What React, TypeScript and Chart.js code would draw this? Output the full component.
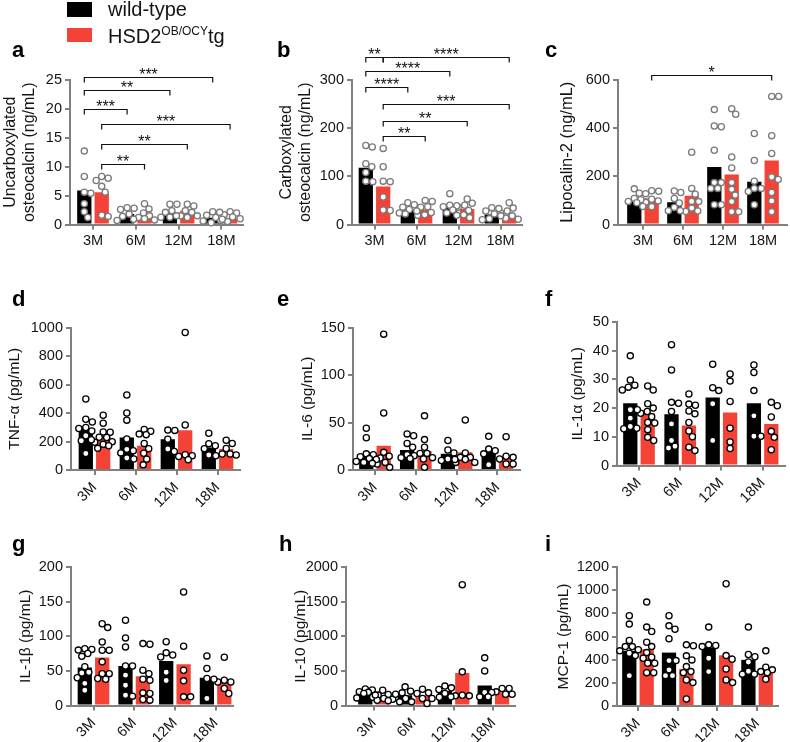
import React, { useEffect, useRef } from 'react';
import { Chart, registerables } from 'chart.js';

Chart.register(...registerables);

const FONT = '"Liberation Sans", Arial, Helvetica, sans-serif';
const RED = '#F44336';
const GRAY = '#808080';
const TEXT = '#141414';

// ---------------- data ----------------
const categories = ['3M', '6M', '12M', '18M'];

// a: uncarboxylated osteocalcin (ng/mL)
const ucOcnWtBar = [5.9, 1.8, 2.1, 1.15];
const ucOcnTgBar = [5.6, 1.65, 2.4, 1.0];
const ucOcnWtPts = [[12.7, 8.3, 5.6, 5.4, 3.6, 2.2, 1.2], [2.9, 2.8, 2.6, 1.8, 1.4, 0.9, 0.7], [3.5, 3.5, 2.4, 2.1, 1.5, 1.25, 1.25], [2.2, 2.1, 1.6, 1.2, 0.9, 0.6, 0.3]];
const ucOcnTgPts = [[8.3, 8.0, 7.6, 6.6, 5.6, 1.6, 1.4], [3.6, 2.7, 2.0, 1.5, 1.2, 1.0, 0.8], [3.5, 3.2, 2.4, 2.1, 1.5, 1.5, 1.2], [2.2, 2.0, 1.7, 1.3, 1.0, 0.7, 0.5]];

// b: carboxylated osteocalcin (ng/mL)
const cOcnWtBar = [118, 31, 35, 21];
const cOcnTgBar = [79, 31, 32, 20];
const cOcnWtPts = [[164, 161, 126, 120, 108, 90, 89], [45, 41, 36, 31, 28, 24, 22], [64, 40, 39, 37, 30, 24, 19], [35, 33, 28, 22, 18, 12, 10]];
const cOcnTgPts = [[158, 120, 90, 89, 57, 30, 29], [50, 48, 37, 36, 25, 20, 19], [53, 44, 40, 36, 29, 20, 14], [45, 34, 28, 24, 18, 13, 11]];

// c: lipocalin-2 (ng/mL)
const lcnWtBar = [105, 92, 239, 178];
const lcnTgBar = [109, 119, 208, 266];
const lcnWtPts = [[148, 130, 108, 103, 96, 90, 75], [139, 133, 108, 89, 71, 57, 57], [477, 406, 409, 308, 174, 174, 150, 150, 82, 82], [378, 266, 180, 150, 150, 137, 82]];
const lcnTgPts = [[140, 138, 128, 105, 98, 92, 74], [300, 150, 126, 96, 95, 68, 56, 54], [481, 458, 280, 235, 174, 146, 122, 95, 53, 53], [532, 532, 369, 295, 197, 187, 133, 98, 53]];

// d: TNF-alpha (pg/mL)
const tnfWtBar = [293, 228, 216, 158];
const tnfTgBar = [235, 170, 279, 147];
const tnfWtPts = [[498, 356, 337, 298, 291, 274, 240, 212, 205, 116], [526, 400, 350, 218, 145, 135, 120, 84, 77], [280, 278, 216, 147, 130], [258, 185, 170, 150, 105, 100]];
const tnfTgPts = [[384, 328, 267, 265, 230, 228, 198, 195, 180, 170, 152], [285, 272, 252, 248, 186, 150, 118, 76, 36], [965, 316, 107, 100, 95, 72], [209, 186, 151, 112, 112, 105]];

// e: IL-6 (pg/mL)
const il6WtBar = [16, 21, 17, 19.6];
const il6TgBar = [25.6, 20, 18.6, 13.3];
const il6WtPts = [[44, 34, 17, 16, 14, 12, 11, 9, 8, 7], [38, 36, 28, 24, 16, 15, 13, 12], [31, 21, 18, 11.6, 11, 10], [35.4, 22, 20.3, 17, 5.6]];
const il6TgPts = [[143, 60, 18.6, 14.4, 12.6, 8, 6.3, 2.8], [57, 32, 24, 17.5, 17.5, 13, 11.6, 2.8], [52.6, 18, 13.3, 13.3, 11, 8, 8], [35, 14.4, 13.3, 11.6, 6.3, 6.3]];

// f: IL-1alpha (pg/mL)
const il1aWtBar = [21.7, 17.9, 23.7, 21.7];
const il1aTgBar = [18.2, 13.9, 18.5, 14.5];
const il1aWtPts = [[38.2, 29.8, 28, 27.3, 26.3, 19.4, 19.4, 16.5, 13.6, 13, 12.8], [42.1, 33.3, 22, 21.7, 18.8, 14.5, 8.7, 6.7, 6.1], [35.3, 27.1, 26.1, 21.5, 8.7], [35, 32.4, 26.1, 17.3, 10.2, 10.2]];
const il1aTgPts = [[27.7, 26.3, 21.5, 20, 18.8, 18.2, 17, 15, 14.8, 12.5, 9.8, 8.7], [24.9, 21.4, 21, 19, 18, 15, 12, 10, 6.4, 5.2], [31.9, 29.4, 22.3, 13, 8.2, 5.9], [22, 20.8, 16.9, 11.9, 9.8, 5.5]];

// g: IL-1beta (pg/mL)
const il1bWtBar = [54.8, 57.2, 64.4, 39.9];
const il1bTgBar = [69.2, 42.3, 59.6, 38];
const il1bWtPts = [[82, 81, 80, 75, 71, 56, 48, 47, 40, 32, 22], [123, 97.6, 84.6, 57, 57, 43.8, 29.3, 14.9, 13.5], [92, 76, 73, 70, 48, 36], [71.6, 53.4, 39, 38, 10]];
const il1bTgPts = [[118, 112.5, 91.8, 79.8, 79.8, 63, 46, 46, 39, 38], [89.4, 88.5, 51, 46, 38, 36.5, 18.3, 17.3, 8.7, 7.7], [164, 85.6, 51, 35.6, 12.5, 12.5], [69.7, 36.5, 34, 34, 24.5, 17.3]];

// h: IL-10 (pg/mL)
const il10WtBar = [183, 149, 211, 288];
const il10TgBar = [125, 139, 471, 192];
const il10WtPts = [[240, 225, 200, 190, 175, 150, 110], [269, 207, 183, 163, 101, 53, 53], [280, 255, 230, 175, 125, 120], [688, 500, 188, 188, 125, 125]];
const il10TgPts = [[220, 160, 150, 120, 100, 90, 75, 70], [235, 183, 173, 101, 101, 29], [1745, 486, 149, 139, 139], [245, 245, 197, 163, 163]];

// i: MCP-1 (pg/mL)
const mcpWtBar = [476, 461, 505, 398];
const mcpTgBar = [490, 320, 438, 312];
const mcpWtPts = [[779, 707, 565, 513, 513, 485, 476, 456, 435, 262], [779, 692, 663, 580, 392, 392, 312, 262, 262], [681, 528, 522, 513, 412, 297], [681, 445, 425, 380, 300, 275, 275]];
const mcpTgPts = [[897, 681, 643, 551, 513, 461, 421, 412, 369, 369, 288, 288], [528, 520, 433, 398, 340, 297, 288, 225, 202, 61], [1056, 435, 404, 320, 225, 202], [476, 335, 312, 297, 288, 231]];

// significance brackets: [group, series] -> [group, series], line value, label
type Bracket = { a: [number, number]; b: [number, number]; y: number; label: string };
const ucOcnBrackets: Bracket[] = [
  { a: [0, 0], b: [3, 0], y: 25.6, label: '***' },
  { a: [0, 0], b: [2, 0], y: 23.3, label: '**' },
  { a: [0, 0], b: [1, 0], y: 20.0, label: '***' },
  { a: [0, 1], b: [3, 1], y: 17.4, label: '***' },
  { a: [0, 1], b: [2, 1], y: 13.95, label: '**' },
  { a: [0, 1], b: [1, 1], y: 10.4, label: '**' },
];
const cOcnBrackets: Bracket[] = [
  { a: [0, 0], b: [0, 1], y: 348, label: '**' },
  { a: [0, 1], b: [3, 1], y: 348, label: '****' },
  { a: [0, 0], b: [2, 0], y: 319, label: '****' },
  { a: [0, 0], b: [1, 0], y: 286, label: '****' },
  { a: [0, 1], b: [3, 1], y: 250, label: '***' },
  { a: [0, 1], b: [2, 1], y: 215, label: '**' },
  { a: [0, 1], b: [1, 1], y: 183, label: '**' },
];
const lcnBrackets: Bracket[] = [{ a: [0, 1], b: [3, 1], y: 622, label: '*' }];

// ---------------- layout ----------------
interface Panel {
  letter: string;
  title: string | string[];
  wtBar: number[]; tgBar: number[]; wtPts: number[][]; tgPts: number[][];
  yMax: number; yStep: number;
  brackets: Bracket[];
  dot: string;
  canvas: [number, number, number, number];
  area: [number, number, number, number];
  cat: [number, number];
  titleMid: number;
  titleSize: number;
  rot: number;
  letterPos: [number, number];
}

const panels: Panel[] = [
  { letter: 'a', title: ['Uncarboxylated', 'osteocalcin (ng/mL)'], wtBar: ucOcnWtBar, tgBar: ucOcnTgBar, wtPts: ucOcnWtPts, tgPts: ucOcnTgPts, yMax: 25, yStep: 5, brackets: ucOcnBrackets, dot: '#7a7a7a', canvas: [0, 40, 262, 222], area: [70, 80, 243, 224.5], cat: [93, 42.8], titleMid: 11, titleSize: 16, rot: 0, letterPos: [12, 58] },
  { letter: 'b', title: ['Carboxylated', 'osteocalcin (ng/mL)'], wtBar: cOcnWtBar, tgBar: cOcnTgBar, wtPts: cOcnWtPts, tgPts: cOcnTgPts, yMax: 300, yStep: 100, brackets: cOcnBrackets, dot: '#7a7a7a', canvas: [262, 40, 265, 222], area: [352, 80, 522, 224.5], cat: [374.5, 42], titleMid: 287, titleSize: 16, rot: 0, letterPos: [277, 58] },
  { letter: 'c', title: 'Lipocalin-2 (ng/mL)', wtBar: lcnWtBar, tgBar: lcnTgBar, wtPts: lcnWtPts, tgPts: lcnTgPts, yMax: 600, yStep: 200, brackets: lcnBrackets, dot: '#7a7a7a', canvas: [527, 40, 263, 222], area: [618, 80, 787, 224.5], cat: [643, 40], titleMid: 567, titleSize: 16.5, rot: 0, letterPos: [545, 58] },
  { letter: 'd', title: 'TNF-\u03b1 (pg/mL)', wtBar: tnfWtBar, tgBar: tnfTgBar, wtPts: tnfWtPts, tgPts: tnfTgPts, yMax: 1000, yStep: 200, brackets: [], dot: '#000', canvas: [0, 290, 262, 230], area: [71, 327.5, 240, 470], cat: [94.5, 41], titleMid: 15, titleSize: 15.5, rot: 45, letterPos: [12, 307] },
  { letter: 'e', title: 'IL-6 (pg/mL)', wtBar: il6WtBar, tgBar: il6TgBar, wtPts: il6WtPts, tgPts: il6TgPts, yMax: 150, yStep: 50, brackets: [], dot: '#000', canvas: [262, 290, 265, 230], area: [353, 327.5, 520, 470], cat: [375, 40.8], titleMid: 307.5, titleSize: 15.5, rot: 45, letterPos: [277, 307] },
  { letter: 'f', title: 'IL-1\u03b1 (pg/mL)', wtBar: il1aWtBar, tgBar: il1aTgBar, wtPts: il1aWtPts, tgPts: il1aTgPts, yMax: 50, yStep: 10, brackets: [], dot: '#000', canvas: [527, 290, 263, 230], area: [617, 322, 785, 465.5], cat: [639, 41.2], titleMid: 578, titleSize: 15.5, rot: 45, letterPos: [545, 307] },
  { letter: 'g', title: 'IL-1\u03b2 (pg/mL)', wtBar: il1bWtBar, tgBar: il1bTgBar, wtPts: il1bWtPts, tgPts: il1bTgPts, yMax: 200, yStep: 50, brackets: [], dot: '#000', canvas: [0, 530, 262, 212], area: [71, 567, 233, 705.5], cat: [93.5, 40.7], titleMid: 26, titleSize: 15.5, rot: 45, letterPos: [12, 551.5] },
  { letter: 'h', title: 'IL-10 (pg/mL)', wtBar: il10WtBar, tgBar: il10TgBar, wtPts: il10WtPts, tgPts: il10TgPts, yMax: 2000, yStep: 500, brackets: [], dot: '#000', canvas: [262, 530, 265, 212], area: [346, 567, 515, 705.5], cat: [374, 39.8], titleMid: 300.5, titleSize: 15.5, rot: 45, letterPos: [279, 551.5] },
  { letter: 'i', title: 'MCP-1 (pg/mL)', wtBar: mcpWtBar, tgBar: mcpTgBar, wtPts: mcpWtPts, tgPts: mcpTgPts, yMax: 1200, yStep: 200, brackets: [], dot: '#000', canvas: [527, 530, 263, 212], area: [617, 567, 778, 706], cat: [638, 39.7], titleMid: 563.5, titleSize: 15.5, rot: 45, letterPos: [545, 551.5] },
];

// compact beeswarm: spread overlapping dots horizontally within a narrow band (pixel space)
function swarm(vals: number[], center: number, yPx: number, xPx: number) {
  const D = 6.6;
  const MAXOFF = 10;
  const placed: [number, number][] = [];
  const out: { x: number; y: number }[] = [];
  const order = vals.map((_, i) => i).sort((p, q) => vals[q] - vals[p]);
  const cands: number[] = [0];
  for (let k = 1; k * 0.5 <= MAXOFF; k++) cands.push(k * 0.5, -k * 0.5);
  for (const i of order) {
    const py = vals[i] * yPx;
    let best = 0;
    let bestScore = -Infinity;
    for (const c of cands) {
      let minD = Infinity;
      for (const [ox, oy] of placed) minD = Math.min(minD, Math.hypot(ox - c, oy - py));
      if (minD >= D) {
        best = c;
        break;
      }
      if (minD > bestScore) {
        bestScore = minD;
        best = c;
      }
    }
    placed.push([best, py]);
    out.push({ x: center + best / xPx, y: vals[i] });
  }
  return out;
}

function makeBracketPlugin(items: Bracket[]) {
  return {
    id: 'sigBrackets',
    afterDatasetsDraw(chart: any) {
      if (!items.length) return;
      const ctx = chart.ctx;
      const ys = chart.scales.y;
      ctx.save();
      ctx.strokeStyle = '#111';
      ctx.fillStyle = '#111';
      ctx.lineWidth = 1.2;
      ctx.font = `16px ${FONT}`;
      ctx.textAlign = 'center';
      ctx.textBaseline = 'alphabetic';
      for (const b of items) {
        const x1 = chart.getDatasetMeta(b.a[1]).data[b.a[0]].x;
        const x2 = chart.getDatasetMeta(b.b[1]).data[b.b[0]].x;
        const yy = Math.round(ys.getPixelForValue(b.y)) + 0.5;
        ctx.beginPath();
        ctx.moveTo(x1, yy + 5);
        ctx.lineTo(x1, yy);
        ctx.lineTo(x2, yy);
        ctx.lineTo(x2, yy + 5);
        ctx.stroke();
        ctx.fillText(b.label, (x1 + x2) / 2, yy + 2.5);
      }
      ctx.restore();
    },
  };
}

function buildConfig(p: Panel): any {
  const [cx, cy, cw, ch] = p.canvas;
  const [L, T, R, B] = p.area;
  const [c1, sp] = p.cat;
  const xmin = 1 - (c1 - L) / sp;
  const xmax = xmin + (R - L) / sp;
  const catPct = 34.8 / sp;
  const half = catPct / 4;
  const yPx = (B - T) / p.yMax;
  const pts = (arr: number[][], s: number) => arr.flatMap((vals, g) => swarm(vals, g + 1 + s * half, yPx, sp));
  const bar = (arr: number[]) => arr.map((v, i) => ({ x: i + 1, y: v }));
  const lh = p.titleSize * 1.15;
  const tickFont = { family: FONT, size: 14.5 };
  return {
    type: 'bar',
    data: {
      datasets: [
        { type: 'bar', label: 'wild-type', data: bar(p.wtBar), backgroundColor: '#000', borderWidth: 0, barPercentage: 0.82, categoryPercentage: catPct, order: 2 },
        { type: 'bar', label: 'HSD2 tg', data: bar(p.tgBar), backgroundColor: RED, borderWidth: 0, barPercentage: 0.82, categoryPercentage: catPct, order: 2 },
        { type: 'scatter', data: pts(p.wtPts, -1), pointRadius: 3.1, pointBorderWidth: 1.3, pointBackgroundColor: '#fff', pointBorderColor: p.dot, showLine: false, clip: false, order: 1 },
        { type: 'scatter', data: pts(p.tgPts, 1), pointRadius: 3.1, pointBorderWidth: 1.3, pointBackgroundColor: '#fff', pointBorderColor: p.dot, showLine: false, clip: false, order: 1 },
      ],
    },
    options: {
      animation: false,
      responsive: false,
      devicePixelRatio: 1,
      events: [],
      layout: { padding: { left: 0, top: T - cy, right: cx + cw - R, bottom: 0 }, autoPadding: false },
      plugins: { legend: { display: false }, tooltip: { enabled: false }, title: { display: false } },
      scales: {
        x: {
          type: 'linear',
          min: xmin,
          max: xmax,
          offset: false,
          afterBuildTicks: (s: any) => {
            s.ticks = categories.map((_, i) => ({ value: i + 1 }));
          },
          ticks: {
            font: tickFont,
            color: TEXT,
            padding: p.rot ? 4 : 3,
            autoSkip: false,
            minRotation: p.rot,
            maxRotation: p.rot,
            callback: (_v: any, i: number) => categories[i],
          },
          grid: { display: true, drawOnChartArea: false, drawTicks: true, tickLength: 5, color: GRAY, lineWidth: 2, offset: false },
          border: { display: true, color: GRAY, width: 2 },
          afterFit: (s: any) => {
            s.height = cy + ch - B;
            s.paddingLeft = 0;
            s.paddingRight = 0;
          },
        },
        y: {
          type: 'linear',
          min: 0,
          max: p.yMax,
          ticks: { stepSize: p.yStep, font: tickFont, color: TEXT, padding: 3, callback: (v: any) => String(v) },
          grid: { display: true, drawOnChartArea: false, drawTicks: true, tickLength: 5, color: GRAY, lineWidth: 2 },
          border: { display: true, color: GRAY, width: 2 },
          title: {
            display: true,
            text: p.title,
            color: TEXT,
            font: { family: FONT, size: p.titleSize, lineHeight: 1.15 },
            padding: { top: p.titleMid - cx - lh / 2, bottom: 0 },
          },
          afterFit: (s: any) => {
            s.width = L - cx;
            s.paddingTop = 0;
            s.paddingBottom = 0;
          },
        },
      },
    },
    plugins: [makeBracketPlugin(p.brackets)],
  };
}

function PanelChart({ p }: { p: Panel }) {
  const ref = useRef<HTMLCanvasElement>(null);
  useEffect(() => {
    if (!ref.current) return;
    const chart = new Chart(ref.current, buildConfig(p));
    return () => chart.destroy();
  }, [p]);
  const [cx, cy, cw, ch] = p.canvas;
  return <canvas ref={ref} width={cw} height={ch} style={{ position: 'absolute', left: cx, top: cy, width: cw, height: ch }} />;
}

export default function App() {
  return (
    <div style={{ position: 'absolute', left: 0, top: 0, width: 790, height: 742, background: '#fff', fontFamily: FONT, color: TEXT, overflow: 'hidden' }}>
      {panels.map((p) => (
        <PanelChart key={p.letter} p={p} />
      ))}
      {panels.map((p) => (
        <div key={'L' + p.letter} style={{ position: 'absolute', left: p.letterPos[0], top: p.letterPos[1] - 18.6, fontSize: 22, lineHeight: '22px', fontWeight: 'bold', color: '#000' }}>
          {p.letter}
        </div>
      ))}
      <div style={{ position: 'absolute', left: 67, top: 2, width: 25, height: 15, background: '#000' }} />
      <div style={{ position: 'absolute', left: 108, top: -1, fontSize: 20, lineHeight: '20px', whiteSpace: 'nowrap' }}>wild-type</div>
      <div style={{ position: 'absolute', left: 67, top: 28, width: 25, height: 14, background: RED }} />
      <div style={{ position: 'absolute', left: 108, top: 26, fontSize: 20, lineHeight: '20px', whiteSpace: 'nowrap' }}>
        HSD2<span style={{ fontSize: 12, position: 'relative', top: -8 }}>OB/OCY</span>tg
      </div>
    </div>
  );
}
